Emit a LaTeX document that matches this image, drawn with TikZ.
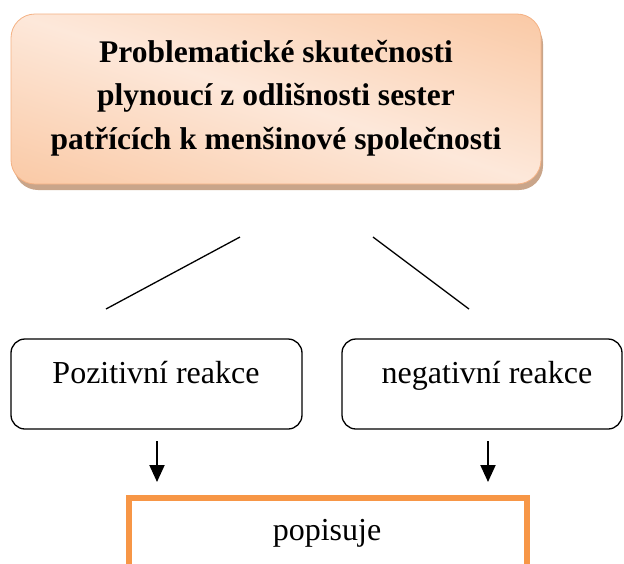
\documentclass[tikz,border=0pt]{standalone}
\usepackage{fontspec}
\setmainfont{Liberation Serif}
\usetikzlibrary{arrows.meta}
\definecolor{peachdark}{HTML}{F8B98A}
\definecolor{peachlight}{HTML}{FDE8DA}
\definecolor{peachedge}{HTML}{F4B183}
\definecolor{peachshadow}{HTML}{C9A58A}
\definecolor{accent}{HTML}{F79646}
\pgfdeclareverticalshading{peachband}{100bp}{color(0bp)=(peachdark); color(27bp)=(peachdark);
  color(50bp)=(peachlight); color(73bp)=(peachdark); color(100bp)=(peachdark)}
\tikzset{
  titleframe/.style={rounded corners=24pt, draw=peachedge, line width=0.8pt},
  reactbox/.style={rounded corners=14pt, draw=black, line width=1.3pt},
  link/.style={line width=1.3pt},
  down/.style={line width=2pt, -{Triangle[length=17pt,width=15pt]}},
  labeltext/.style={font=\fontsize{32}{36}\selectfont},
}
\begin{document}
\begin{tikzpicture}[x=1pt,y=-1pt]
\useasboundingbox (0,0) rectangle (624,563);
\clip (0,0) rectangle (624,563);
% title box: shadow, diagonal gradient fill, frame
\fill[peachshadow, rounded corners=24pt] (14,20) rectangle (543,190);
\begin{scope}
  \clip[rounded corners=24pt] (11,14) rectangle (541,184);
  \shade[shading=peachband, shading angle=-17.8] (10,-167) rectangle (542,365);
\end{scope}
\path[titleframe] (11,14) rectangle (541,184);
\node[align=center, font=\bfseries\fontsize{31.5}{43.5}\selectfont] (title) at (276,98)
  {Problematické skutečnosti\\plynoucí z odlišnosti sester\\patřících k menšinové společnosti};
% reaction boxes
\draw[reactbox] (11,339) rectangle (302,429);
\node[labeltext, anchor=base] (pos) at (156,383) {Pozitivní reakce};
\draw[reactbox] (342,339) rectangle (622,429);
\node[labeltext, anchor=base] (neg) at (487,383) {negativní reakce};
% branching lines
\coordinate (la) at (240,237); \coordinate (lb) at (106,309);
\coordinate (ra) at (373,237); \coordinate (rb) at (469,309);
\draw[link] (la) -- (lb);
\draw[link] (ra) -- (rb);
% arrows
\coordinate (pa) at (157,441); \coordinate (pb) at (157,482);
\coordinate (na) at (488,441); \coordinate (nb) at (488,482);
\draw[down] (pa) -- (pb);
\draw[down] (na) -- (nb);
% description box
\draw[accent, line width=6.5pt] (129,600) -- (129,498) -- (527,498) -- (527,600);
\node[labeltext, anchor=base] (desc) at (327,540) {popisuje};
\end{tikzpicture}
\end{document}
